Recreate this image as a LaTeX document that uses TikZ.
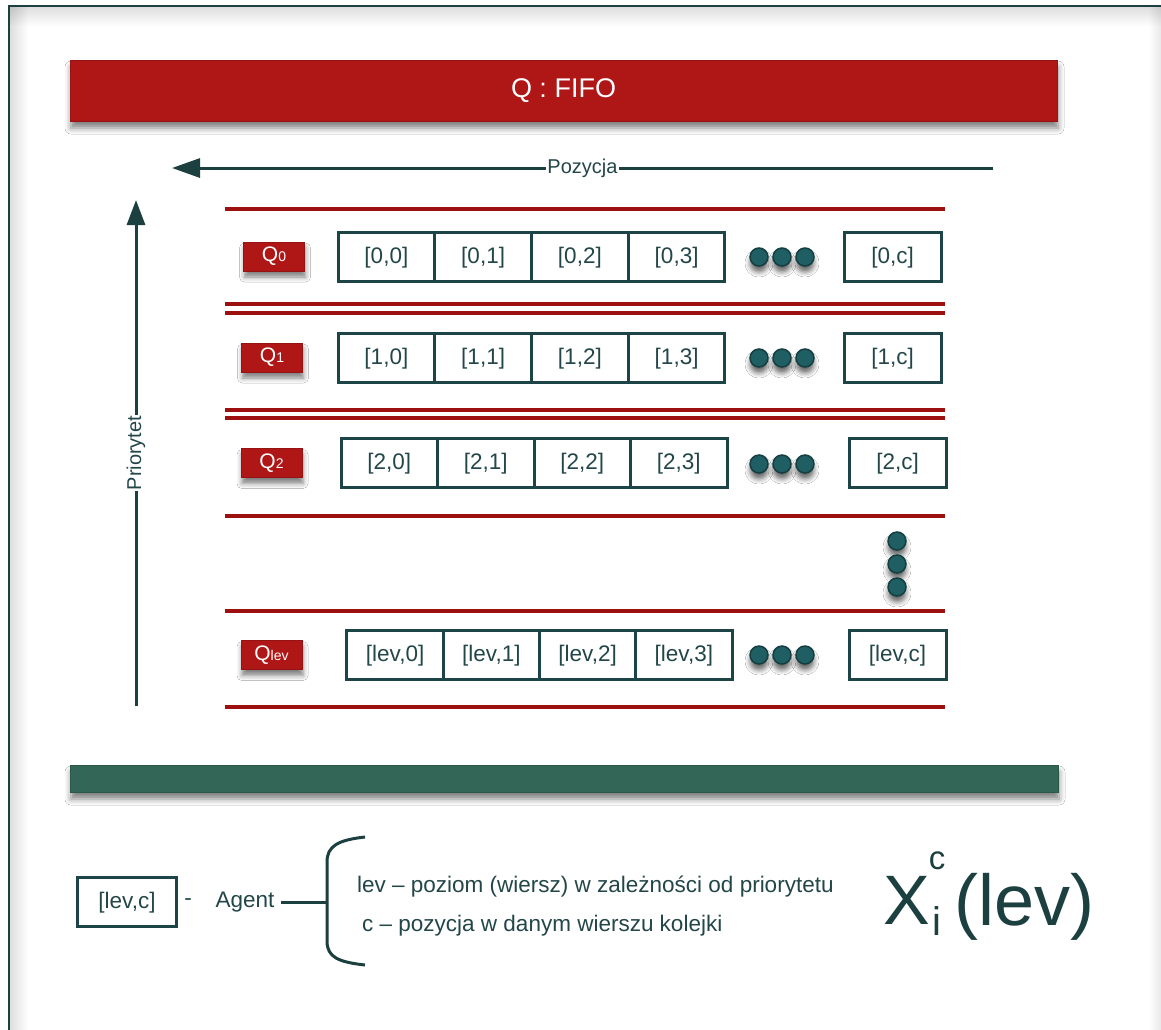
\documentclass[tikz,border=0pt]{standalone}
\usepackage{fontspec}
\setmainfont{Liberation Sans}
\usetikzlibrary{shadows.blur,arrows.meta}

\definecolor{frameteal}{HTML}{1C3F40}
\definecolor{cellteal}{HTML}{1D4447}
\definecolor{txtteal}{HTML}{234649}
\definecolor{qred}{HTML}{AF1616}
\definecolor{linered}{HTML}{9C1010}
\definecolor{bargreen}{HTML}{336656}
\definecolor{dotteal}{HTML}{1F5E62}
\definecolor{dotdark}{HTML}{143E40}

% smaller index after the Q of a queue label
\newcommand{\qidx}[1]{{\fontsize{14}{14}\selectfont #1}}

\begin{document}
\begin{tikzpicture}[x=1pt,y=-1pt,
  cell/.style={draw=cellteal, line width=3pt, fill=white, minimum width=96.5pt,
    minimum height=49pt, inner sep=0pt, text=txtteal, text depth=0.32em,
    font=\fontsize{22.5}{22.5}\selectfont},
  lastcell/.style={cell, minimum width=97pt},
  qlabel/.style={fill=qred, draw=qred!85!black, line width=0.8pt,
    minimum width=61pt, minimum height=29pt, inner sep=0pt, text=white,
    font=\fontsize{21}{21}\selectfont,
    blur shadow={shadow xshift=1pt, shadow yshift=-6pt, shadow blur radius=5pt, shadow opacity=50}},
  dotball/.style={circle, fill=dotteal, draw=dotdark, line width=1.5pt,
    minimum size=18pt, inner sep=0pt,
    blur shadow={shadow xshift=0pt, shadow yshift=-6pt, shadow blur radius=5pt, shadow opacity=60}},
  rowline/.style={draw=linered, line width=3.5pt},
  axisline/.style={draw=frameteal, line width=3pt},
  axislabel/.style={fill=white, inner sep=1pt, text=txtteal, font=\fontsize{20}{20}\selectfont},
  legendtext/.style={text=txtteal, inner sep=0pt, font=\fontsize{22.5}{22.5}\selectfont},
  formula/.style={text=frameteal, inner sep=0pt},
  ]

\useasboundingbox (0,0) rectangle (1161,1029);
\fill[white] (0,0) rectangle (1161,1029);

% page frame with its soft inner shadow
\begin{scope}[blend mode=multiply]
  \shade[top color=black!13, bottom color=white] (10,7) rectangle (1161,26);
  \shade[left color=black!13, right color=white] (10,7) rectangle (28,1029);
  \shade[left color=white, right color=black!9] (1148,7) rectangle (1161,1029);
\end{scope}
\draw[frameteal, line width=2.5pt] (9,6) rectangle (1185,1055);

% title bar
\node[fill=qred, draw=qred!85!black, line width=0.8pt, minimum width=987pt,
  minimum height=61pt, inner sep=0pt, text=white, font=\fontsize{27}{27}\selectfont,
  blur shadow={shadow xshift=1pt, shadow yshift=-7pt, shadow blur radius=6pt, shadow opacity=50}]
  (title) at (563.5,90.5) {Q : FIFO};

% position axis
\coordinate (pozR) at (993,168);
\coordinate (pozL) at (172,168);
\draw[axisline, -{Triangle[length=28pt, width=19pt]}] (pozR) -- node[axislabel] (poz) {Pozycja} (pozL);

% priority axis
\coordinate (prioB) at (136,706);
\coordinate (prioT) at (136,200);
\draw[axisline, -{Triangle[length=25pt, width=18pt]}] (prioB) -- node[axislabel, rotate=90] (prio) {Priorytet} (prioT);

% row separators
\foreach \yy in {209,304,313,410,418,516,611,707}
  \draw[rowline] (225,\yy) -- (945,\yy);

% queue labels
\node[qlabel] (q0) at (274,256.5) {Q\qidx{0}};
\node[qlabel] (q1) at (272,357.5) {Q\qidx{1}};
\node[qlabel] (q2) at (271.5,463) {Q\qidx{2}};
\node[qlabel] (qlev) at (271.5,655) {Q\qidx{lev}};

% row 0
\foreach \k in {0,1,2,3}
  \node[cell] (c0\k) at ({338+96.75*(\k+0.5)},256.5) {[0,\k]};
\node[lastcell] (c0c) at (892.5,256.5) {[0,c]};
% row 1
\foreach \k in {0,1,2,3}
  \node[cell] (c1\k) at ({338+96.75*(\k+0.5)},357.5) {[1,\k]};
\node[lastcell] (c1c) at (892.5,357.5) {[1,c]};
% row 2
\foreach \k in {0,1,2,3}
  \node[cell] (c2\k) at ({341+96.5*(\k+0.5)},463) {[2,\k]};
\node[lastcell] (c2c) at (897.5,463) {[2,c]};
% row lev
\foreach \k in {0,1,2,3}
  \node[cell] (cl\k) at ({347+96.25*(\k+0.5)},655) {[lev,\k]};
\node[lastcell] (clc) at (897.5,655) {[lev,c]};

% ellipsis dots
\foreach \r/\yy in {0/257,1/358,2/464,l/655}{
  \node[dotball] (d\r a) at (759,\yy) {};
  \node[dotball] (d\r b) at (782,\yy) {};
  \node[dotball] (d\r c) at (805,\yy) {};
}
\node[dotball] (va) at (897,541) {};
\node[dotball] (vb) at (897,564) {};
\node[dotball] (vc) at (897,587) {};

% footer bar
\node[fill=bargreen, draw=bargreen!85!black, line width=0.8pt, minimum width=988pt,
  minimum height=27pt, inner sep=0pt,
  blur shadow={shadow xshift=1pt, shadow yshift=-7pt, shadow blur radius=6pt, shadow opacity=50}]
  (footbar) at (564,778.5) {};

% legend
\node[cell, minimum width=99pt] (legcell) at (127,901.5) {[lev,c]};
\node[legendtext] (dash) at (188,902) {-};
\node[legendtext] (agent) at (245,902) {Agent};
\coordinate (braceMid) at (327,902);
\draw[axisline] ([xshift=6pt]agent.east) -- (braceMid);
\draw[axisline] (365,837) .. controls (338,840) and (327,846) .. (327,862)
  -- (327,941) .. controls (327,957) and (338,962) .. (365,965);
\node[legendtext, anchor=base west] (levtxt) at (357,892) {lev – poziom (wiersz) w zależności od priorytetu};
\node[legendtext, anchor=base west] (ctxt) at (362,931) {c – pozycja w danym wierszu kolejki};

% agent symbol
\node[formula, anchor=base west, font=\fontsize{70}{70}\selectfont] (fx) at (883,924) {X};
\node[formula, font=\fontsize{33}{33}\selectfont] (fc) at (937,861) {c};
\node[formula, font=\fontsize{40}{40}\selectfont] (fi) at (937,921) {i};
\node[formula, anchor=base west, font=\fontsize{72}{72}\selectfont] (flev) at (954,925) {(lev)};
\end{tikzpicture}
\end{document}
